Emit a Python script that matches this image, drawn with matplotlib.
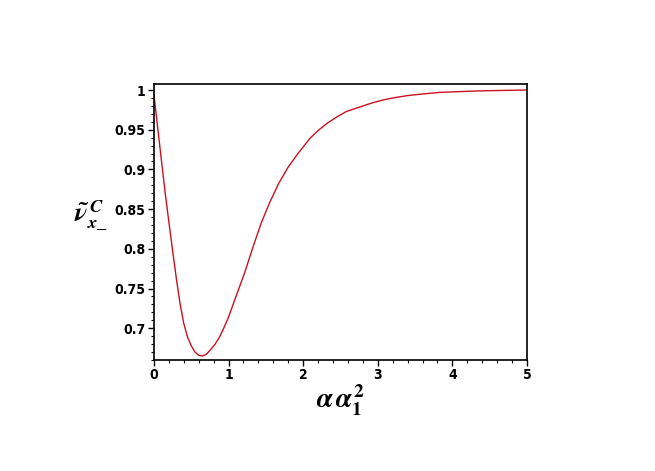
import numpy as np
import matplotlib
matplotlib.use("Agg")
import matplotlib.pyplot as plt
from matplotlib.ticker import MultipleLocator

# values
alpha_a1_sq = [0.0, 0.05, 0.10, 0.15, 0.20, 0.25, 0.30, 0.35, 0.40, 0.45,
               0.50, 0.55, 0.60, 0.65, 0.70, 0.75, 0.82, 0.88, 0.94, 1.00,
               1.10, 1.22, 1.33, 1.44, 1.55, 1.67, 1.80, 1.93, 2.09, 2.20,
               2.32, 2.45, 2.58, 2.74, 2.90, 3.05, 3.20, 3.40, 3.60, 3.83,
               4.10, 4.40, 4.70, 5.0]
nu_tilde = [0.994, 0.953, 0.912, 0.871, 0.834, 0.798, 0.763, 0.731, 0.706, 0.689,
            0.678, 0.670, 0.666, 0.665, 0.667, 0.672, 0.680, 0.689, 0.701, 0.714,
            0.740, 0.771, 0.803, 0.833, 0.858, 0.882, 0.903, 0.920, 0.939, 0.949,
            0.958, 0.966, 0.973, 0.978, 0.983, 0.987, 0.990, 0.993, 0.995, 0.997,
            0.998, 0.999, 0.9995, 1.0]

x_ticks = [0, 1, 2, 3, 4, 5]
y_ticks = [0.7, 0.75, 0.8, 0.85, 0.9, 0.95, 1]
y_tick_labels = ["0.7", "0.75", "0.8", "0.85", "0.9", "0.95", "1"]

plt.rcParams["mathtext.fontset"] = "custom"
plt.rcParams["mathtext.it"] = "STIXGeneral:italic:bold"
plt.rcParams["mathtext.rm"] = "STIXGeneral:bold"

fig = plt.figure(figsize=(6.55, 4.71), dpi=100)
ax = fig.add_axes([0.235, 0.2357, 0.5696, 0.586])

ax.plot(alpha_a1_sq, nu_tilde, color="#cc1020", lw=1.0)

ax.set_xlim(0, 5)
ax.set_ylim(0.66, 1.0076)
ax.set_xticks(x_ticks)
ax.set_yticks(y_ticks)
ax.set_yticklabels(y_tick_labels)
ax.xaxis.set_minor_locator(MultipleLocator(0.2))
ax.yaxis.set_minor_locator(MultipleLocator(0.01))
ax.tick_params(which="major", direction="out", length=4, width=1, pad=2)
ax.tick_params(which="minor", direction="out", length=2, width=0.8)
for lab in ax.get_xticklabels() + ax.get_yticklabels():
    lab.set_fontweight("bold")
    lab.set_fontsize(10)
    lab.set_family("DejaVu Sans")
    lab.set_fontstretch("condensed")
for sp in ax.spines.values():
    sp.set_linewidth(1.2)

ax.set_xlabel(r"$\alpha\,\alpha_1^2$", fontsize=20, labelpad=0)
ax.set_ylabel(r"$\tilde{\nu}^{\,C}_{x\_}$", fontsize=19, rotation=0)
ax.yaxis.set_label_coords(-0.17, 0.46)

fig.savefig("out.png", dpi=100)
